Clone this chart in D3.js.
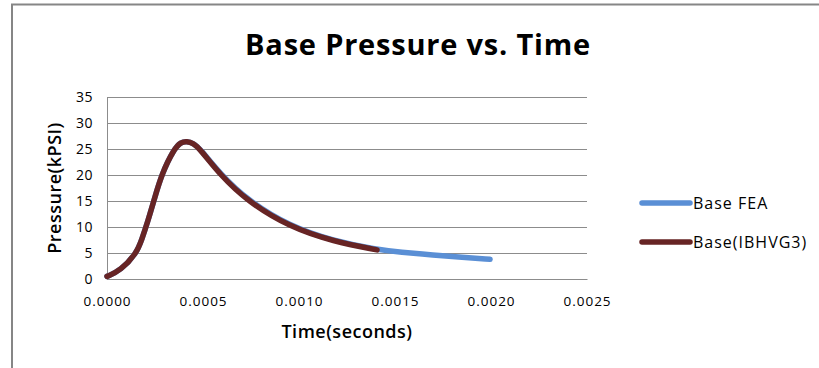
<!DOCTYPE html>
<html>
<head>
<meta charset="utf-8">
<script src="https://cdn.jsdelivr.net/npm/d3@7"></script>
<style>
  body { margin: 0; background: #fff; }
  svg text { font-family: "Open Sans", Lato, sans-serif; fill: #000; }
</style>
</head>
<body>
<div id="chart"></div>
<script>
(function() {
  // values
  var feaTime = [0, 0.00007, 0.000155, 0.000181, 0.000212, 0.000246, 0.000285, 0.000349, 0.000385, 0.000415,
                 0.00045, 0.000484, 0.00059, 0.00073, 0.00095, 0.00118, 0.0014, 0.00153,
                 0.0017, 0.00185, 0.001995]
  var feaPressure = [0.5, 1.6, 5.0, 7.6, 11.0, 15.3, 20.2, 25.0, 26.3, 26.5,
                     26.1, 25.1, 20.2, 15.2, 10.15, 7.3, 5.7, 5.15,
                     4.6, 4.15, 3.8]

  var ibTime = [0, 0.00007, 0.000155, 0.000181, 0.000212, 0.000246, 0.000285, 0.000349, 0.000385, 0.000415,
                0.00045, 0.000484, 0.00059, 0.00073, 0.00095, 0.00118, 0.001406]
  var ibPressure = [0.5, 1.6, 5.0, 7.6, 11.0, 15.3, 20.2, 25.0, 26.3, 26.5,
                    26.1, 25.0, 20.0, 15.0, 10.0, 7.2, 5.6]

  var xTicks = [0, 0.0005, 0.001, 0.0015, 0.002, 0.0025]
  var yTicks = [0, 5, 10, 15, 20, 25, 30, 35]
  var seriesNames = ["Base FEA", "Base(IBHVG3)"]
  var seriesColors = ["#5a8fd5", "#672424"]

  var margin = {top: 97, left: 107}
  var width = 480,
      height = 182

  var svg = d3.select("#chart").append("svg")
      .attr("width", 819)
      .attr("height", 368)

  // chart area frame (runs off the right and bottom of the picture)
  svg.append("rect")
    .attr("x", 12)
    .attr("y", 4.5)
    .attr("width", 830)
    .attr("height", 400)
    .attr("fill", "#fff")
    .attr("stroke", "#868686")
    .attr("stroke-width", 2)

  svg.append("text")
    .attr("x", 418)
    .attr("y", 55)
    .attr("text-anchor", "middle")
    .style("font-size", "29px")
    .style("font-weight", "bold")
    .style("letter-spacing", "0.8px")
    .text("Base Pressure vs. Time")

  var g = svg.append("g")
    .attr("transform", "translate(" + margin.left + "," + margin.top + ")")

  var xScale = d3.scaleLinear().domain([0, 0.0025]).range([0, width])
  var yScale = d3.scaleLinear().domain([0, 35]).range([height, 0])

  // gridlines
  g.append("g")
    .attr("class", "grid")
    .call(d3.axisLeft(yScale).tickValues(yTicks).tickSize(-width).tickFormat(""))
    .call(function(s) {
      s.select(".domain").remove()
      s.selectAll("line").attr("stroke", "#8c8c8c").attr("stroke-width", 1)
    })

  var yAxis = d3.axisLeft(yScale).tickValues(yTicks).tickSize(0).tickPadding(14)
  g.append("g")
    .attr("class", "axis y-axis")
    .call(yAxis)
    .call(function(s) {
      s.select(".domain").attr("stroke", "#8c8c8c")
      s.selectAll("text").style("font-size", "14px").style("font-family", "'Open Sans', sans-serif")
        .style("letter-spacing", "0.5px")
    })

  var xAxis = d3.axisBottom(xScale).tickValues(xTicks).tickSize(0).tickPadding(17)
    .tickFormat(d3.format(".4f"))
  g.append("g")
    .attr("class", "axis x-axis")
    .attr("transform", "translate(0," + height + ")")
    .call(xAxis)
    .call(function(s) {
      s.select(".domain").attr("stroke", "#8c8c8c")
      s.selectAll("text").style("font-size", "13.5px").style("font-family", "'Open Sans', sans-serif")
        .style("letter-spacing", "1px")
    })

  svg.append("text")
    .attr("transform", "translate(61,188) rotate(-90)")
    .attr("text-anchor", "middle")
    .style("font-size", "18px")
    .style("font-weight", "600")
    .style("letter-spacing", "0.5px")
    .text("Pressure(kPSI)")

  svg.append("text")
    .attr("x", 347)
    .attr("y", 338)
    .attr("text-anchor", "middle")
    .style("font-size", "18px")
    .style("font-weight", "600")
    .style("letter-spacing", "0.5px")
    .text("Time(seconds)")

  var line = d3.line()
    .x(function(d) { return xScale(d[0]) })
    .y(function(d) { return yScale(d[1]) })
    .curve(d3.curveBasis)

  var series = [
    d3.zip(feaTime, feaPressure),
    d3.zip(ibTime, ibPressure)
  ]

  g.selectAll(".series")
    .data(series)
    .enter().append("path")
    .attr("class", "series")
    .attr("d", line)
    .attr("fill", "none")
    .attr("stroke", function(d, i) { return seriesColors[i] })
    .attr("stroke-width", 5.5)
    .attr("stroke-linecap", "round")
    .attr("stroke-linejoin", "round")

  // legend
  var legend = svg.selectAll(".legend")
    .data(seriesNames)
    .enter().append("g")
    .attr("class", "legend")
    .attr("transform", function(d, i) { return "translate(642," + (203 + i * 39) + ")" })

  legend.append("line")
    .attr("x1", 0)
    .attr("x2", 48)
    .attr("stroke", function(d, i) { return seriesColors[i] })
    .attr("stroke-width", 5.5)
    .attr("stroke-linecap", "round")

  legend.append("text")
    .attr("x", 51)
    .attr("dy", "0.36em")
    .style("font-size", "16px")
    .style("letter-spacing", "1px")
    .text(function(d) { return d })
})()
</script>
</body>
</html>
